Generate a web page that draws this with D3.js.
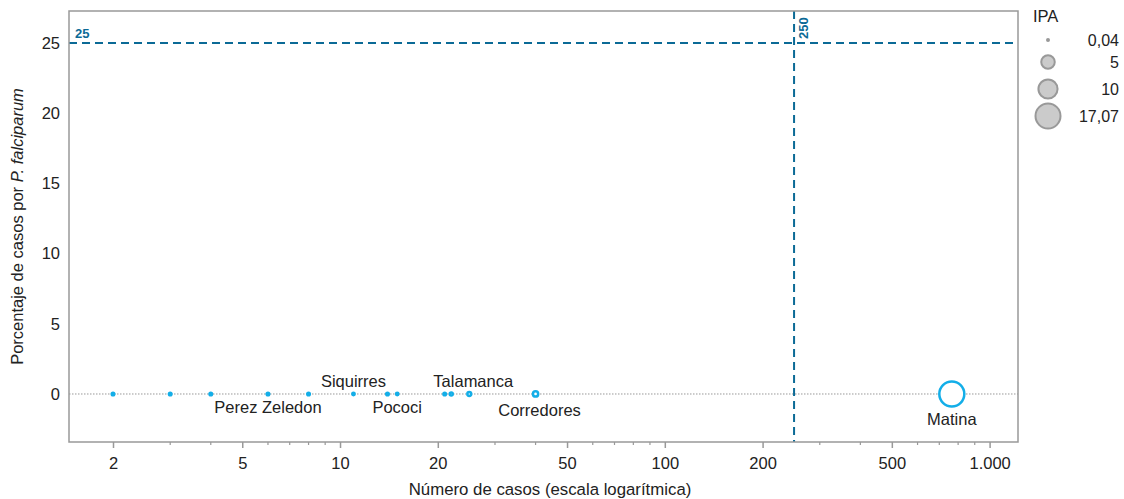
<!DOCTYPE html>
<html><head><meta charset="utf-8">
<script src="https://cdn.jsdelivr.net/npm/d3@7"></script>
<style>
body{margin:0;background:#fff;}
text{font-family:"Liberation Sans",Arial,Helvetica,sans-serif;}
</style></head>
<body><svg id="c" width="1124" height="499"></svg>
<script>
const cases = [2, 3, 4, 6, 8, 11, 14, 15, 21, 22, 25, 40, 765];
const pctFalciparum = [0,0,0,0,0,0,0,0,0,0,0,0,0];
const ipa = [0.18, 0.18, 0.18, 0.18, 0.18, 0.15, 0.18, 0.15, 0.18, 0.25, 0.4, 0.75, 17.07];
const names = ["","","","Perez Zeledon","","Siquirres","","Pococi","","","Talamanca","Corredores","Matina"];
const labelPos = ["","","","below","","above","","below","","","above","below","below"];
const xTicks = [2,5,10,20,50,100,200,500,1000];
const xMinor = [3,4,6,7,8,9,30,40,60,70,80,90,300,400,600,700,800,900];
const yTicks = [0,5,10,15,20,25];
const legendIPA = [0.04, 5, 10, 17.07];
const refY = 25, refX = 250;

const svg = d3.select("#c");
const L=69, R=1018, T=11, B=442;
const x = d3.scaleLog().domain([1.464, 1223]).range([L, R]);
const y = d3.scaleLinear().domain([-3.42, 27.28]).range([B, T]);
const r = d3.scaleSqrt().domain([0, 17.07]).range([0, 12.5]);
const blue = "#13aee8", dark = "#0b6a96";
const fmt = d3.formatLocale({decimal:",", thousands:".", grouping:[3], currency:["",""]});
const fx = fmt.format(",d");
const FS = 16.5;

// zero line
svg.append("line").attr("x1",L).attr("x2",R).attr("y1",y(0)).attr("y2",y(0))
  .attr("stroke","#999").attr("stroke-width",1).attr("stroke-dasharray","1.5,1.5");

// reference lines
svg.append("line").attr("x1",L).attr("x2",R).attr("y1",y(refY)).attr("y2",y(refY))
  .attr("stroke",dark).attr("stroke-width",2).attr("stroke-dasharray","8,5");
svg.append("line").attr("x1",x(refX)).attr("x2",x(refX)).attr("y1",T).attr("y2",B)
  .attr("stroke",dark).attr("stroke-width",2).attr("stroke-dasharray","8,5");
svg.append("text").attr("x",L+6).attr("y",y(refY)-5).text(fx(refY))
  .attr("fill",dark).attr("font-size",13).attr("font-weight","bold");
svg.append("text").attr("transform",`translate(${x(refX)+14},${T+28}) rotate(-90)`).text(fx(refX))
  .attr("fill",dark).attr("font-size",13).attr("font-weight","bold");

// frame
svg.append("rect").attr("x",L).attr("y",T).attr("width",R-L).attr("height",B-T)
  .attr("fill","none").attr("stroke","#999").attr("stroke-width",1.5);

// x axis
const xa = svg.append("g").attr("transform",`translate(0,${B})`)
  .call(d3.axisBottom(x).tickValues(xTicks).tickFormat(fx).tickSize(6).tickSizeOuter(0));
xa.select(".domain").remove();
xa.selectAll("line").attr("stroke","#999").attr("stroke-width",1.5);
xa.selectAll("text").attr("font-size",FS).attr("fill","#222").attr("dy","1.1em");
svg.append("g").selectAll("line").data(xMinor).join("line")
  .attr("x1",d=>x(d)).attr("x2",d=>x(d)).attr("y1",B).attr("y2",B+3)
  .attr("stroke","#999").attr("stroke-width",1.2);

// y axis
const ya = svg.append("g").attr("transform",`translate(${L},0)`)
  .call(d3.axisLeft(y).tickValues(yTicks).tickSize(0).tickPadding(9));
ya.select(".domain").remove();
ya.selectAll("text").attr("font-size",FS).attr("fill","#222");

// axis titles
svg.append("text").attr("x",550).attr("y",495).attr("text-anchor","middle")
  .attr("font-size",16.8).attr("fill","#222").text("Número de casos (escala logarítmica)");
const yt = svg.append("text").attr("transform",`translate(23,${(T+B)/2}) rotate(-90)`)
  .attr("text-anchor","middle").attr("font-size",FS).attr("fill","#222");
yt.append("tspan").text("Porcentaje de casos por ");
yt.append("tspan").attr("font-style","italic").text("P. falciparum");

// points
const data = cases.map((c,i)=>({c, p:pctFalciparum[i], ipa:ipa[i], name:names[i], pos:labelPos[i]}));
svg.append("g").selectAll("circle").data(data).join("circle")
  .attr("cx",d=>x(d.c)).attr("cy",d=>y(d.p)).attr("r",d=>r(d.ipa))
  .attr("fill","#fff").attr("stroke",blue).attr("stroke-width",2.5);

svg.append("g").selectAll("text").data(data.filter(d=>d.name)).join("text")
  .attr("x",d=>x(d.c) + (d.name==="Talamanca"?4:(d.name==="Corredores"?4:0)))
  .attr("y",d=>d.pos==="above" ? y(d.p)-7 : y(d.p)+ (d.name==="Matina"?31:(d.name==="Corredores"?22:19)))
  .attr("text-anchor","middle").attr("font-size",FS).attr("fill","#222").text(d=>d.name);

// legend
const lg = svg.append("g");
lg.append("text").attr("x",1033).attr("y",22).attr("font-size",16.5).attr("fill","#222").text("IPA");
const ly = [40, 62, 89, 116];
const fl = fmt.format(",.2~f");
legendIPA.forEach((v,i)=>{
  lg.append("circle").attr("cx",1048).attr("cy",ly[i]).attr("r",Math.max(r(v),1))
    .attr("fill","#cbcbcb").attr("stroke","#999").attr("stroke-width",2);
  lg.append("text").attr("x",1119).attr("y",ly[i]).attr("dy","0.35em").attr("text-anchor","end")
    .attr("font-size",16).attr("fill","#222").text(fl(v));
});
</script></body></html>
